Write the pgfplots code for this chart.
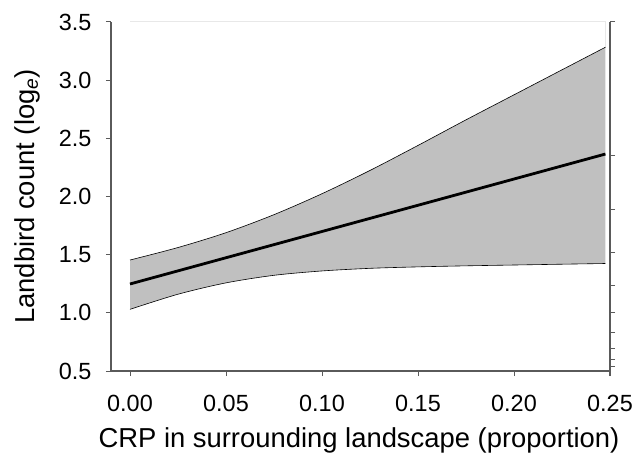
\documentclass[border=0pt]{standalone}
\usepackage{pgfplots}
\pgfplotsset{compat=1.18}
\usepgfplotslibrary{fillbetween}
\usepackage{fontspec}
\setmainfont{Liberation Sans}

\definecolor{bandgray}{RGB}{192,192,192}
\definecolor{axisgray}{RGB}{90,90,90}
\definecolor{framegray}{RGB}{232,232,232}

\begin{document}
\begin{tikzpicture}
\begin{axis}[
  at={(0,0)}, anchor=south west,
  scale only axis, width=499bp, height=349bp,
  xmin=-0.0099, xmax=0.25, ymin=0.5, ymax=3.5,
  axis x line*=bottom, axis y line*=left,
  axis line style={axisgray, line width=1.2bp},
  every tick/.style={axisgray, line width=1bp},
  tick align=outside, major tick length=5bp,
  xtick={0,0.05,0.10,0.15,0.20,0.25},
  ytick={0.5,1.0,1.5,2.0,2.5,3.0,3.5},
  /pgf/number format/assume math mode=true,
  xticklabel style={font=\fontsize{23.5}{28}\selectfont, yshift=-16bp,
    /pgf/number format/.cd, fixed, fixed zerofill, precision=2},
  yticklabel style={font=\fontsize{23.5}{28}\selectfont, xshift=-11bp,
    /pgf/number format/.cd, fixed, fixed zerofill, precision=1},
  xlabel={CRP in surrounding landscape (proportion)},
  ylabel={Landbird count (log\textsubscript{\itshape e})},
  every axis x label/.style={at={(axis description cs:0.497,-0.2)}, anchor=center,
    font=\fontsize{27.5}{32}\selectfont},
  every axis y label/.style={at={(axis description cs:-0.168,0.5)}, rotate=90, anchor=center,
    font=\fontsize{27.5}{32}\selectfont},
  clip=false,
]
% faint frame around the data range
\addplot[framegray, line width=1bp] coordinates {(0,3.5) (0.2476,3.5) (0.2476,3.283)};

% 95% confidence band
\addplot[name path=upper, black, line width=0.6bp, smooth] coordinates {
  (0,1.454) (0.025,1.5615) (0.05,1.689) (0.075,1.844) (0.1,2.024)
  (0.125,2.224) (0.15,2.439) (0.175,2.659) (0.2,2.874) (0.225,3.089) (0.2476,3.283)};
\addplot[name path=lower, black, line width=0.6bp, smooth] coordinates {
  (0,1.03) (0.025,1.16) (0.05,1.2575) (0.075,1.3225) (0.1,1.36)
  (0.125,1.3825) (0.15,1.395) (0.175,1.404) (0.2,1.411) (0.225,1.418) (0.2476,1.424)};
\addplot[bandgray] fill between[of=upper and lower];

% fitted line
\addplot[black, line width=2.8bp] coordinates {(0,1.248) (0.2476,2.365)};
\end{axis}

% right-hand axis with unlabelled ticks
\begin{axis}[
  at={(0,0)}, anchor=south west,
  scale only axis, width=499bp, height=349bp,
  xmin=-0.0099, xmax=0.25, ymin=0.5, ymax=3.5,
  axis x line=none, axis y line*=right,
  axis line style={axisgray, line width=1.2bp, shorten <=-5bp},
  every tick/.style={axisgray, line width=1bp},
  tick align=outside, major tick length=5bp,
  ytick={0.537,0.60,0.695,0.829,1.007,1.231,1.517,1.884,2.351,3.5},
  yticklabels={},
]
\end{axis}

\pgfresetboundingbox
\useasboundingbox (-111bp,-87bp) rectangle (528bp,371bp);
\end{tikzpicture}
\end{document}
